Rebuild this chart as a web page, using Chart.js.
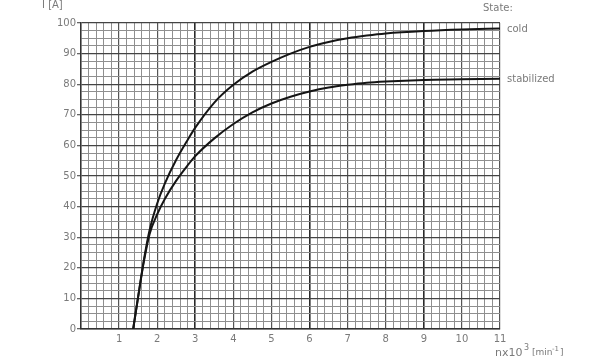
<!DOCTYPE html>
<html>
<head>
<meta charset="utf-8">
<script src="https://cdn.jsdelivr.net/npm/chart.js@4/dist/chart.umd.min.js"></script>
<style>
  html, body { margin: 0; padding: 0; background: #fff; }
  #wrap { width: 600px; height: 361px; position: relative; }
</style>
</head>
<body>
<div id="wrap"><canvas id="chart"></canvas></div>
<script>
// speed n x 10^3 [1/min]
const speed = [1.37, 1.5, 1.65, 1.8, 2.0, 2.2, 2.5, 2.8, 3.0, 3.5, 4.0, 4.5, 5.0, 5.5, 6.0, 6.5, 7.0, 7.5, 8.0, 9.0, 10.0, 11.0];
// current I [A] per state
const coldCurrent = [0, 10.5, 22.5, 32.3, 41, 47.5, 55.3, 61.8, 65.8, 74, 79.8, 84.1, 87.3, 90, 92.2, 93.8, 95.0, 95.9, 96.6, 97.4, 97.9, 98.2];
const stabilizedCurrent = [0, 10.5, 22, 31, 37.5, 42.5, 48.5, 53.5, 56.5, 62.3, 67, 70.8, 73.7, 75.9, 77.6, 78.9, 79.8, 80.5, 80.9, 81.4, 81.6, 81.8];
const stateNames = ['cold', 'stabilized'];

const textColor = '#7a7a7a';
const fontFamily = '"DejaVu Sans", sans-serif';

const isInt = v => Math.abs(v - Math.round(v)) < 1e-6;
const toPoints = ys => speed.map((x, i) => ({ x: x, y: ys[i] }));

// writes the state names after the last point of each curve, plus axis captions
const labelsPlugin = {
    id: 'labels',
    afterDraw(chart) {
        const ctx = chart.ctx;
        const xs = chart.scales.x, ys = chart.scales.y;
        ctx.save();
        ctx.fillStyle = textColor;
        ctx.font = '10px ' + fontFamily;
        ctx.textBaseline = 'middle';
        chart.data.datasets.forEach(ds => {
            const last = ds.data[ds.data.length - 1];
            ctx.fillText(ds.label, xs.getPixelForValue(last.x) + 7, ys.getPixelForValue(last.y) + 1);
        });
        ctx.fillText('State:', 483, 8);
        ctx.fillText('I [A]', 42, 5);
        ctx.font = '11px ' + fontFamily;
        ctx.fillText('nx10', 495, 353);
        ctx.font = '8px ' + fontFamily;
        ctx.fillText('3', 524, 348);
        ctx.font = '9px ' + fontFamily;
        ctx.fillText('[min', 532, 353);
        ctx.font = '7px ' + fontFamily;
        ctx.fillText('-1', 552, 349);
        ctx.font = '9px ' + fontFamily;
        ctx.fillText(']', 560, 353);
        ctx.restore();
    }
};

new Chart(document.getElementById('chart'), {
    type: 'line',
    data: {
        datasets: [
            { label: stateNames[0], data: toPoints(coldCurrent) },
            { label: stateNames[1], data: toPoints(stabilizedCurrent) }
        ]
    },
    options: {
        responsive: true,
        maintainAspectRatio: false,
        animation: false,
        layout: { padding: { left: 0, top: 23, right: 100, bottom: 0 } },
        elements: {
            line: { borderColor: '#151515', borderWidth: 2, cubicInterpolationMode: 'monotone' },
            point: { radius: 0 }
        },
        plugins: { legend: { display: false }, tooltip: { enabled: false } },
        scales: {
            x: {
                type: 'linear', min: 0, max: 11,
                afterFit: s => { s.height = 32; },
                border: { color: '#333', width: 1.5 },
                grid: {
                    drawTicks: false,
                    color: c => isInt(c.tick.value) ? ([3, 6, 9].includes(Math.round(c.tick.value)) ? '#2a2a2a' : '#555') : '#8f8f8f',
                    lineWidth: c => isInt(c.tick.value) ? ([3, 6, 9].includes(Math.round(c.tick.value)) ? 1.6 : 1.2) : 1
                },
                ticks: {
                    stepSize: 0.2, autoSkip: false, maxRotation: 0, padding: 4,
                    color: textColor, font: { family: fontFamily, size: 10 },
                    callback: v => (isInt(v) && Math.round(v) > 0) ? String(Math.round(v)) : ''
                }
            },
            y: {
                type: 'linear', min: 0, max: 100,
                afterFit: s => { s.width = 81; },
                border: { color: '#333', width: 1.5 },
                grid: {
                    tickLength: 4,
                    tickColor: c => isInt(c.tick.value / 10) ? '#666' : 'rgba(0,0,0,0)',
                    color: c => isInt(c.tick.value / 10) ? '#444' : '#8f8f8f',
                    lineWidth: c => isInt(c.tick.value / 10) ? 1.3 : 1
                },
                ticks: {
                    stepSize: 2.5, autoSkip: false, padding: 1,
                    color: textColor, font: { family: fontFamily, size: 10 },
                    callback: v => isInt(v / 10) ? String(Math.round(v)) : ''
                }
            }
        }
    },
    plugins: [labelsPlugin]
});
</script>
</body>
</html>
